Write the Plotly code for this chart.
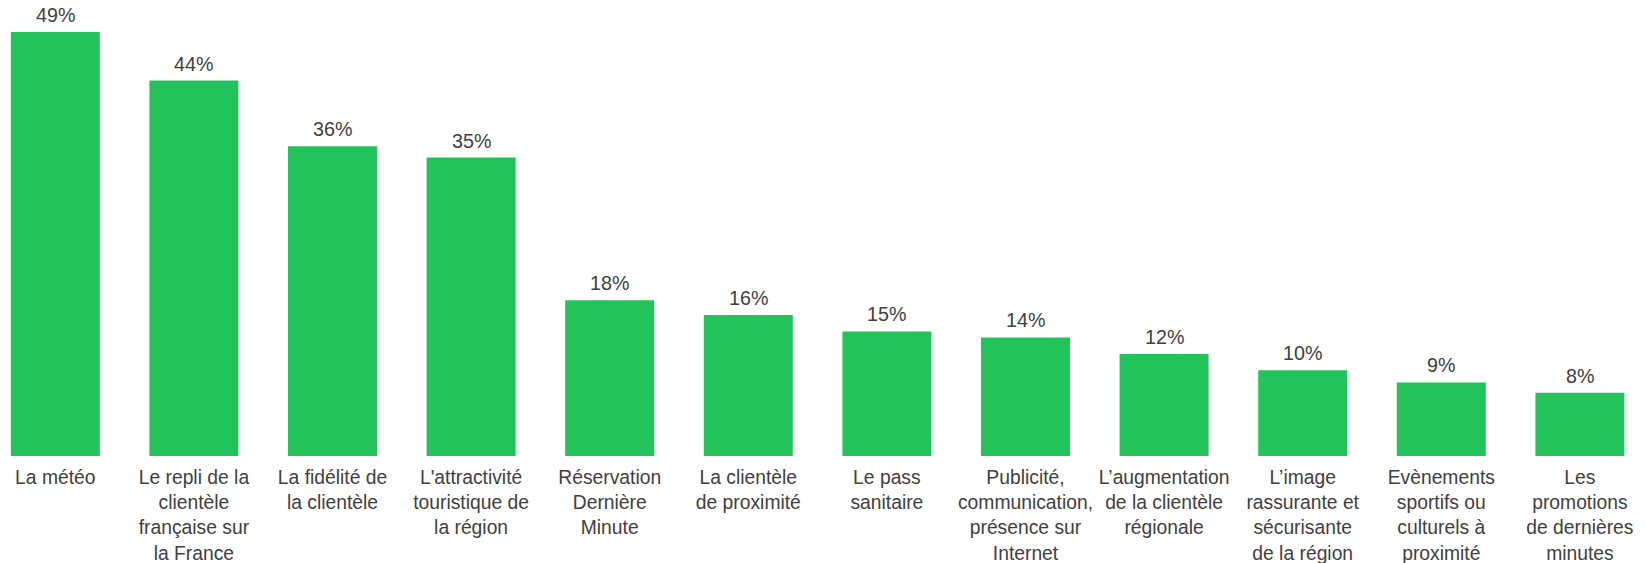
import plotly.graph_objects as go

categories = [
    "La météo",
    "Le repli de la<br>clientèle<br>française sur<br>la France",
    "La fidélité de<br>la clientèle",
    "L'attractivité<br>touristique de<br>la région",
    "Réservation<br>Dernière<br>Minute",
    "La clientèle<br>de proximité",
    "Le pass<br>sanitaire",
    "Publicité,<br>communication,<br>présence sur<br>Internet",
    "L’augmentation<br>de la clientèle<br>régionale",
    "L’image<br>rassurante et<br>sécurisante<br>de la région",
    "Evènements<br>sportifs ou<br>culturels à<br>proximité",
    "Les<br>promotions<br>de dernières<br>minutes",
]
values = [49.0, 43.4, 35.8, 34.5, 18.0, 16.3, 14.4, 13.7, 11.8, 9.9, 8.5, 7.3]
value_labels = ["49%", "44%", "36%", "35%", "18%", "16%", "15%", "14%", "12%", "10%", "9%", "8%"]

GREEN = "#22C35B"
TEXT = "#404040"
FONT = "Liberation Sans, Arial, sans-serif"
FS_VAL = 19.7
FS_TICK = 19.3

fig = go.Figure(
    go.Bar(
        x=categories,
        y=values,
        marker=dict(color=GREEN, line=dict(width=0)),
        hoverinfo="skip",
    )
)

for cat, val, lab in zip(categories, values, value_labels):
    fig.add_annotation(
        x=cat, y=val, text=lab, showarrow=False,
        xanchor="center", yanchor="bottom", yshift=4,
        font=dict(family=FONT, size=FS_VAL, color=TEXT),
    )

fig.update_layout(
    width=1646,
    height=563,
    margin=dict(l=0, r=0, t=20, b=107),
    paper_bgcolor="white",
    plot_bgcolor="white",
    bargap=0.358,
    showlegend=False,
    font=dict(family=FONT, size=FS_TICK, color=TEXT),
    xaxis=dict(
        type="category",
        range=[-0.399, 11.477],
        showgrid=False,
        zeroline=False,
        showline=False,
        ticks="",
        ticklabelstandoff=8,
        automargin=False,
        tickfont=dict(family=FONT, size=FS_TICK, color=TEXT),
        tickangle=0,
    ),
    yaxis=dict(
        range=[0, 50.4],
        visible=False,
        automargin=False,
    ),
)

fig.write_html(
    "out.html",
    config={"displayModeBar": False},
    post_script="document.body.style.margin='0';document.body.style.overflow='hidden';",
)
